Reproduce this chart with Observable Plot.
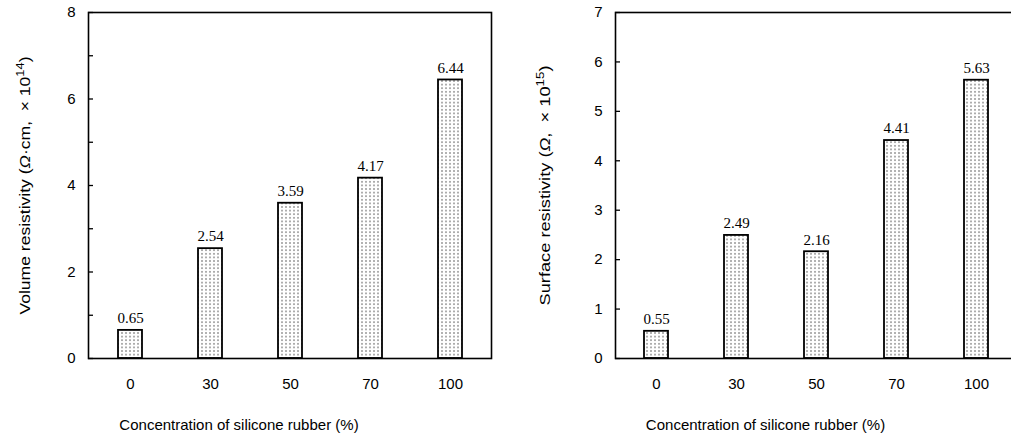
<!DOCTYPE html>
<html><head><meta charset="utf-8">
<script src="https://cdn.jsdelivr.net/npm/d3@7"></script>
<script src="https://cdn.jsdelivr.net/npm/@observablehq/plot@0.6"></script>
<style>
html,body{margin:0;padding:0;background:#fff;overflow:hidden;}
#wrap{display:flex;width:1030px;}
svg{flex:none;}
</style></head><body><div id="wrap"></div>
<script>
const categories = ["0", "30", "50", "70", "100"];
const volumeValues = [0.65, 2.54, 3.59, 4.17, 6.44];
const surfaceValues = [0.55, 2.49, 2.16, 4.41, 5.63];
const volumeTicks = [0, 1, 2, 3, 4, 5, 6, 7, 8];
const volumeTickLabels = [0, 2, 4, 6, 8];
const surfaceTicks = [0, 1, 2, 3, 4, 5, 6, 7];
const surfaceTickLabels = [0, 1, 2, 3, 4, 5, 6, 7];
const xTitle = "Concentration of silicone rubber (%)";
// title parts: [plain, italic, plain, superscript, plain]
const volumeTitleParts = ["Volume resistivity (", "Ω", "·cm,  × 10", "14", ")"];
const surfaceTitleParts = ["Surface resistivity (", "Ω", ",  × 10", "15", ")"];

function chart(values, ticks, tickLabels, ymax, titleParts, id, o) {
  const data = categories.map((c, i) => ({c, v: values[i]}));
  const frameW = o.width - o.ml - o.mr;
  const yTitle = titleParts.join("");
  const svg = Plot.plot({
    width: o.width, height: 437,
    marginLeft: o.ml, marginRight: o.mr, marginTop: 12, marginBottom: 79,
    style: {fontFamily: "'Liberation Sans', Arial, sans-serif", fontSize: "15px", color: "#000", background: "#fff"},
    x: {domain: categories, paddingInner: 0.7, paddingOuter: 0.35, label: null},
    y: {domain: [0, ymax], label: null},
    marks: [
      Plot.barY(data, {x: "c", y: "v", fill: `url(#${id})`, stroke: "#000", strokeWidth: 1.8}),
      Plot.frame({stroke: "#000", strokeWidth: 1.6}),
      Plot.tickY(ticks, {y: d => d, insetRight: frameW - 5, stroke: "#000", strokeWidth: 1.3}),
      Plot.axisY({ticks: tickLabels, tickSize: 0, tickPadding: 13, fontSize: 15, tickFormat: d => String(d)}),
      Plot.axisX({tickSize: 0, tickPadding: 20, fontSize: 15}),
      Plot.text(data, {x: "c", y: "v", text: d => d.v.toFixed(2), dy: -12, fontFamily: "'Liberation Serif', 'Times New Roman', serif", fontSize: 15}),
      Plot.text([xTitle], {frameAnchor: "bottom", textAnchor: "middle", lineAnchor: "middle", dy: 67, dx: -51, fontSize: 15}),
      Plot.text([yTitle], {frameAnchor: "left", textAnchor: "middle", lineAnchor: "middle", rotate: -90, dx: o.tdx, fontSize: 15})
    ]
  });
  const ns = "http://www.w3.org/2000/svg";
  // rich y title: italic Omega, superscript exponent, stretched like the reference
  for (const t of svg.querySelectorAll("text")) {
    if (t.textContent === yTitle) {
      t.textContent = "";
      t.setAttribute("style", "white-space: pre");
      t.setAttribute("textLength", o.tlen);
      t.setAttribute("lengthAdjust", "spacingAndGlyphs");
      titleParts.forEach((p, i) => {
        const s = document.createElementNS(ns, "tspan");
        s.textContent = p;
        if (i === 1) s.setAttribute("font-style", "italic");
        if (i === 3) { s.setAttribute("font-size", "11"); s.setAttribute("dy", "-6"); }
        if (i === 4) s.setAttribute("dy", "6");
        t.appendChild(s);
      });
    }
  }
  const defs = document.createElementNS(ns, "defs");
  const pat = document.createElementNS(ns, "pattern");
  pat.setAttribute("id", id);
  pat.setAttribute("width", "4");
  pat.setAttribute("height", "3.6");
  pat.setAttribute("patternUnits", "userSpaceOnUse");
  const bg = document.createElementNS(ns, "rect");
  bg.setAttribute("width", "4"); bg.setAttribute("height", "3.6"); bg.setAttribute("fill", "#fff");
  pat.appendChild(bg);
  const dot = document.createElementNS(ns, "circle");
  dot.setAttribute("cx", "2"); dot.setAttribute("cy", "1.8"); dot.setAttribute("r", "0.75"); dot.setAttribute("fill", "#333");
  pat.appendChild(dot);
  defs.appendChild(pat);
  svg.insertBefore(defs, svg.firstChild);
  return svg;
}

const wrap = document.getElementById("wrap");
wrap.appendChild(chart(volumeValues, volumeTicks, volumeTickLabels, 8, volumeTitleParts, "dotsV", {width: 505, ml: 88, mr: 14, tdx: -63, tlen: 258}));
wrap.appendChild(chart(surfaceValues, surfaceTicks, surfaceTickLabels, 7, surfaceTitleParts, "dotsS", {width: 520, ml: 110, mr: 8, tdx: -70, tlen: 240}));
</script></body></html>
